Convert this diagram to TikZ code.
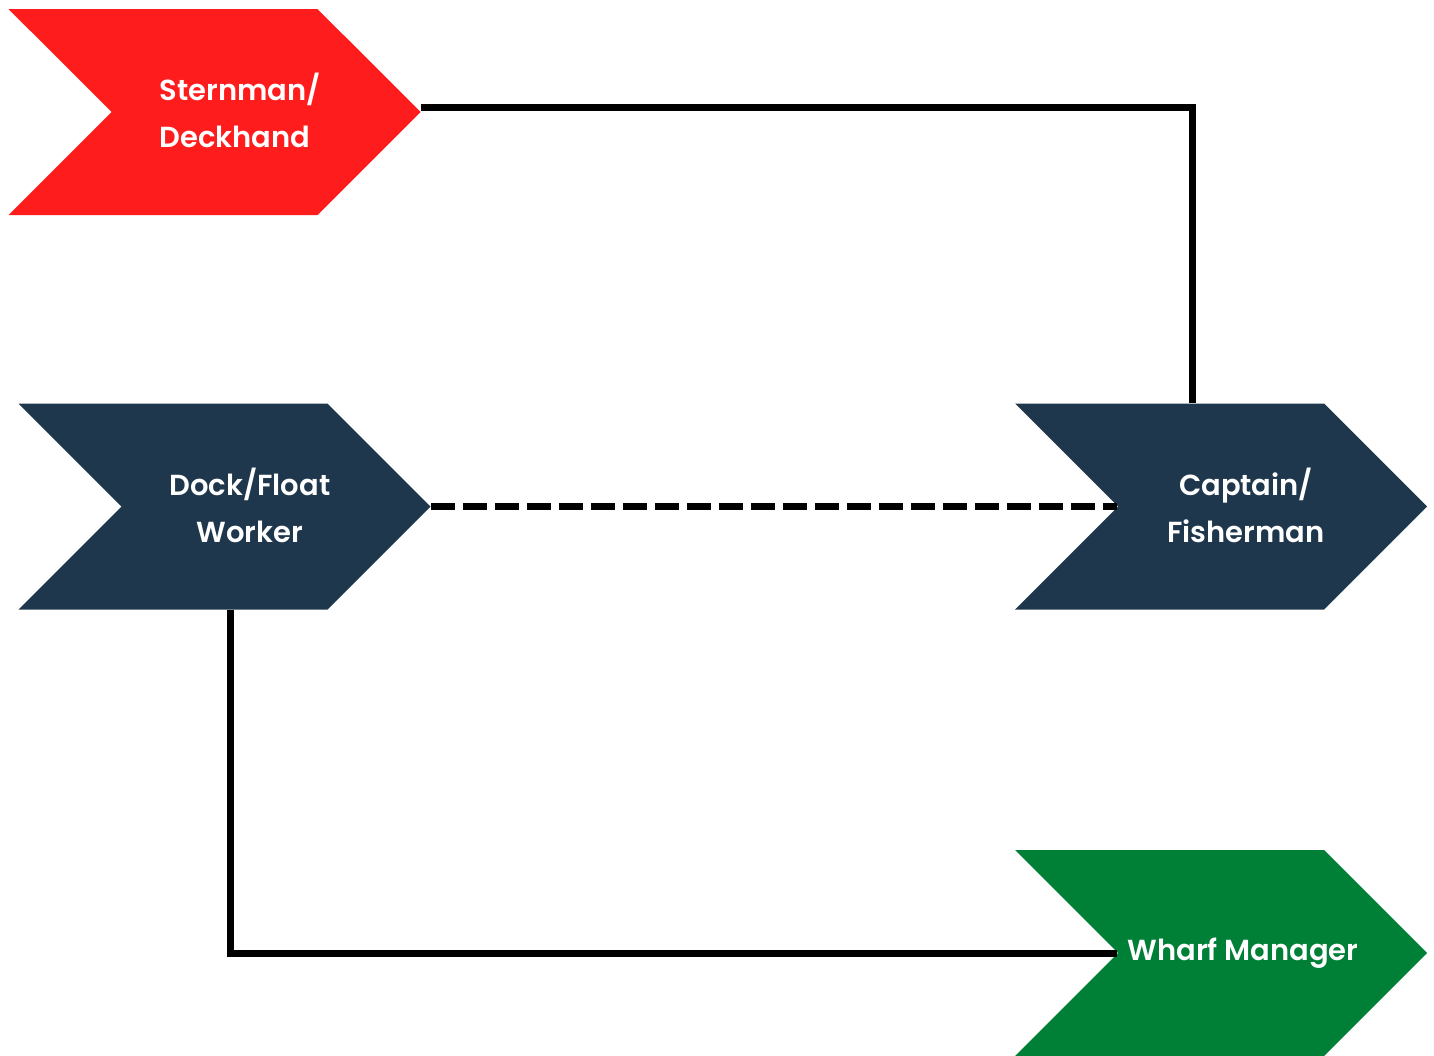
\documentclass[tikz,border=0pt]{standalone}
\usepackage{fontspec}
\setmainfont{Poppins}[BoldFont={Poppins SemiBold}]
\usetikzlibrary{shapes.symbols,positioning,calc}
\definecolor{sternred}{HTML}{FF1C1C}
\definecolor{docknavy}{HTML}{1F374C}
\definecolor{wharfgreen}{HTML}{008037}

\begin{document}
\begin{tikzpicture}[x=1pt,y=-1pt]
	\useasboundingbox (0,0) rectangle (1434,1055);
	\begin{scope}[every node/.style={signal,signal to=east,signal from=west,
		signal pointer angle=90,minimum width=412pt,minimum height=206pt,inner sep=0pt}]
		\node [fill=sternred] (stern) at (214.5,112) {};
		\node [fill=docknavy] (dock) at (224.5,506.5) {};
		\node [fill=docknavy] (capt) at (1221,506.5) {};
		\node [fill=wharfgreen] (wharf) at (1221,953) {};
	\end{scope}

	\begin{scope}[every node/.style={text=white,font=\fontsize{29}{47}\selectfont\bfseries}]
		\node [anchor=west,align=left] (sterntxt) at (156,110) {Sternman/\\Deckhand};
		\node [align=center] (docktxt) at (250,505) {Dock/Float\\Worker};
		\node [align=center] (capttxt) at (1246,505) {Captain/\\Fisherman};
		\node (wharftxt) at (1243,953) {Wharf Manager};
	\end{scope}

	\coordinate (captnotch) at ($(capt.center)+(-104,0)$);
	\coordinate (wharfnotch) at ($(wharf.center)+(-104,0)$);

	\begin{scope}[line width=7pt]
		\draw ([yshift=5pt]stern.east) -| ($(capt.north)+(-29,0)$);
		\draw [dash pattern=on 24pt off 8pt] (dock.east) -- (captnotch);
		\draw ($(dock.south)+(5.5,0)$) |- (wharfnotch);
	\end{scope}
\end{tikzpicture}
\end{document}
